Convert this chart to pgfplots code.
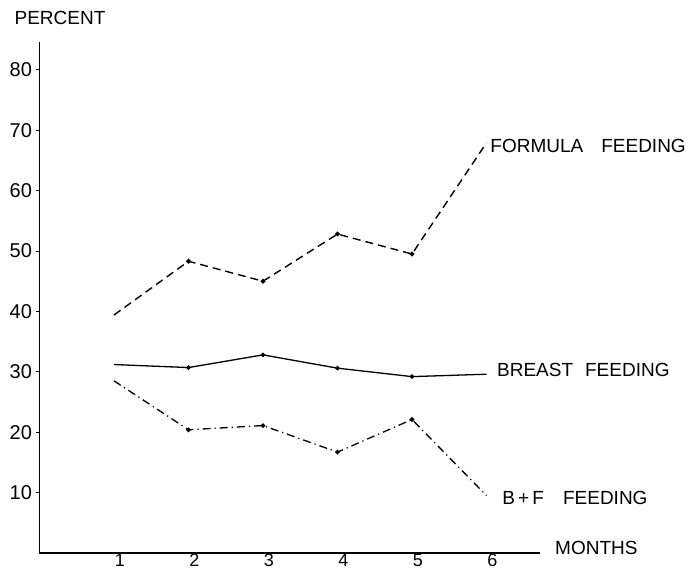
\documentclass[border=0pt]{standalone}
\usepackage{fontspec}
\setmainfont{Liberation Sans}
\usepackage{pgfplots}
\pgfplotsset{compat=1.18}
\begin{document}
\begin{tikzpicture}[x=1pt,y=1pt]
\useasboundingbox (0,0) rectangle (689,575);
\begin{axis}[
  at={(39.5pt,22pt)}, anchor=south west,
  scale only axis,
  x=74.5pt, y=6.04pt,
  xmin=0, xmax=6.72, ymin=0, ymax=84.6,
  axis x line=bottom, axis y line=left,
  axis line style={-, line width=1.1pt},
  clip=false,
  xtick={1,2,3,4,5,6},
  ytick={10,20,30,40,50,60,70,80},
  tick style={black, line width=0.8pt},
  xtick style={draw=none},
  ytick align=outside, major tick length=3pt,
  /pgf/number format/assume math mode=true,
  tick label style={font=\fontsize{20}{22}\selectfont},
  xticklabel style={font=\fontsize{18}{20}\selectfont, xshift=6pt, yshift=1.5pt, inner sep=1pt},
  yticklabel style={xshift=-1pt},
]
\addplot[black, line width=1.4pt, dash pattern=on 8pt off 5pt, mark=*, mark size=1.6pt, mark indices={2,3,4,5}, mark options={solid}]
  coordinates {(1,39.4) (2,48.3) (3,45.0) (4,52.8) (5,49.5) (6,67.9)};
\addplot[black, line width=1.3pt, mark=*, mark size=1.6pt, mark indices={2,3,4,5}]
  coordinates {(1,31.2) (2,30.7) (3,32.8) (4,30.6) (5,29.2) (6,29.6)};
\addplot[black, line width=1.3pt, dash pattern=on 8pt off 4pt on 1.2pt off 4pt, mark=*, mark size=1.6pt, mark indices={2,3,4,5}, mark options={solid}]
  coordinates {(1,28.5) (2,20.4) (3,21.1) (4,16.7) (5,22.1) (6,9.5)};
\node[anchor=west, inner sep=0pt, font=\fontsize{19}{21}\selectfont] at (axis cs:6.05,67.4) {FORMULA\hspace{18pt}FEEDING};
\node[anchor=west, inner sep=0pt, font=\fontsize{19}{21}\selectfont] at (axis cs:6.14,30.3) {BREAST\hspace{12pt}FEEDING};
\node[anchor=west, inner sep=0pt, font=\fontsize{19}{21}\selectfont] at (axis cs:6.21,9.1) {B\,+\,F\hspace{19pt}FEEDING};
\node[anchor=west, inner sep=0pt, font=\fontsize{19}{21}\selectfont] at (axis cs:6.92,0.8) {MONTHS};
\node[anchor=center, inner sep=0pt, font=\fontsize{19}{21}\selectfont] at (axis cs:0.275,88.6) {PERCENT};
\end{axis}
\end{tikzpicture}
\end{document}
